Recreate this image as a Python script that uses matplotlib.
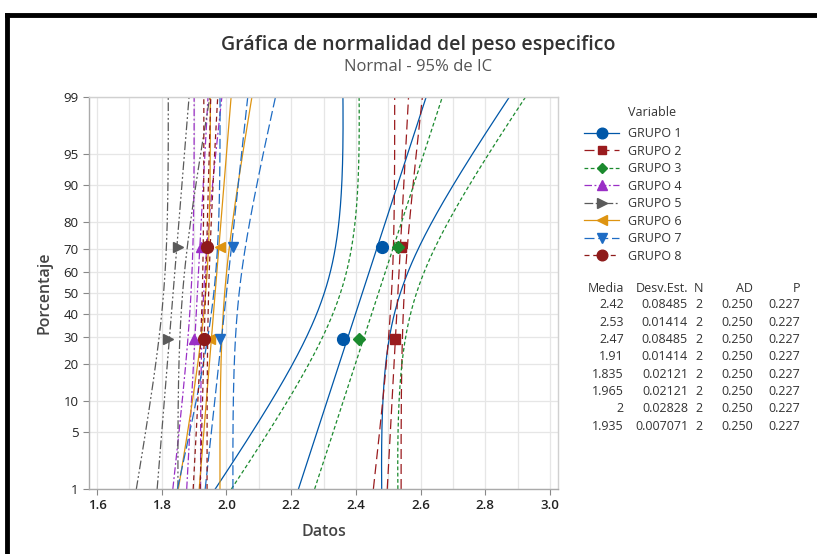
import numpy as np
import matplotlib
matplotlib.use('Agg')
import matplotlib.pyplot as plt
from matplotlib.lines import Line2D
from statistics import NormalDist

plt.rcParams['font.family'] = ['Open Sans', 'DejaVu Sans']

# ---- Data (two observations per group) ----
groups = ['GRUPO 1', 'GRUPO 2', 'GRUPO 3', 'GRUPO 4',
          'GRUPO 5', 'GRUPO 6', 'GRUPO 7', 'GRUPO 8']
obs_low  = [2.36, 2.52, 2.41, 1.90, 1.82, 1.95, 1.98, 1.93]
obs_high = [2.48, 2.54, 2.53, 1.92, 1.85, 1.98, 2.02, 1.94]
ad_vals  = [0.250] * 8
p_vals   = [0.227] * 8

pct_ticks = [1, 5, 10, 20, 30, 40, 50, 60, 70, 80, 90, 95, 99]

# ---- Styles ----
colors  = ['#0057A8', '#9A1B1E', '#1B8A2E', '#9A2FC6',
           '#5A5A5A', '#DE9411', '#1E6CC4', '#8E1A1A']
markers = ['o', 's', 'D', '^', '>', '<', 'v', 'o']
msizes  = [8.5, 6.5, 6, 7.5, 7.5, 7.5, 7.5, 8.5]
dashes  = [None, (8, 4), (3, 2), (6, 2, 1.5, 2), (7, 2, 1.5, 2, 1.5, 2),
           None, (8, 3), (4, 3)]

nd = NormalDist()
def z_of(p):
    return nd.inv_cdf(p / 100.0)

fig = plt.figure(figsize=(8.17, 5.54), dpi=100)
ax = fig.add_axes([89 / 817, 1 - 489 / 554, (558 - 89) / 817, (489 - 97) / 554])

z_lo, z_hi = z_of(1), z_of(99)
zz = np.linspace(z_lo, z_hi, 200)

means, sds = [], []
for i in range(len(groups)):
    x = np.sort(np.array([obs_low[i], obs_high[i]]))
    n = len(x)
    mu = x.mean()
    s = x.std(ddof=1)
    means.append(mu)
    sds.append(s)
    fit = mu + s * zz
    # 95% band around the fitted percentile line (width tuned to the reference)
    half = 1.96 * s * np.sqrt(1.0 / n + 0.35 * zz ** 2)
    kw = dict(color=colors[i], lw=0.9)
    for line in (fit, fit - half, fit + half):
        l, = ax.plot(line, zz, **kw)
        if dashes[i] is not None:
            l.set_dashes(dashes[i])

# points on top, median ranks (i-0.3)/(n+0.4)
for i in range(len(groups)):
    x = np.sort(np.array([obs_low[i], obs_high[i]]))
    n = len(x)
    ranks = (np.arange(1, n + 1) - 0.3) / (n + 0.4)
    zp = [nd.inv_cdf(r) for r in ranks]
    ax.plot(x, zp, linestyle='none', marker=markers[i], ms=msizes[i],
            color=colors[i], mec=colors[i], zorder=5)

ax.set_xlim(1.575, 3.025)
ax.set_ylim(z_lo, z_hi)
ax.set_xticks(np.arange(1.6, 3.01, 0.2))
ax.set_xticklabels([f'{v:.1f}' for v in np.arange(1.6, 3.01, 0.2)],
                   fontsize=9.5, fontweight='semibold', color='#222222')
ax.set_xticks(np.arange(1.6, 3.01, 0.1), minor=True)
ax.set_yticks([z_of(p) for p in pct_ticks])
ax.set_yticklabels([str(p) for p in pct_ticks], fontsize=9.5, color='#222222')
ax.tick_params(axis='x', which='minor', length=0)
ax.tick_params(axis='both', which='major', length=4, color='#888888', width=0.8)
ax.grid(True, which='both', color='#E6E6E6', lw=0.9, zorder=0)
ax.set_axisbelow(True)
for sp in ax.spines.values():
    sp.set_color('#D0D0D0')
    sp.set_linewidth(1.0)
ax.spines['left'].set_color('#AAAAAA')
ax.spines['bottom'].set_color('#AAAAAA')

ax.set_xlabel('Datos', fontsize=11.5, fontweight='semibold', color='#444444', labelpad=8)
ax.set_ylabel('Porcentaje', fontsize=11.5, fontweight='semibold', color='#444444', labelpad=8)

fig.text(418 / 817, 1 - 45 / 554, 'Gráfica de normalidad del peso especifico',
         ha='center', va='center', fontsize=14, fontweight='semibold', color='#333333')
fig.text(418 / 817, 1 - 67 / 554, 'Normal - 95% de IC',
         ha='center', va='center', fontsize=12, color='#555555')

# ---- Legend ----
handles = []
for i in range(len(groups)):
    h = Line2D([], [], color=colors[i], lw=0.9, marker=markers[i],
               ms=msizes[i] * 0.9, mec=colors[i])
    if dashes[i] is not None:
        h.set_dashes(dashes[i])
    handles.append(h)
leg = fig.legend(handles, groups, loc='upper left',
                 bbox_to_anchor=(578 / 817, 1 - 121 / 554), frameon=False,
                 fontsize=9, handlelength=2.8, labelspacing=0.36,
                 handletextpad=0.7, borderpad=0)
for t in leg.get_texts():
    t.set_color('#333333')
fig.text(628 / 817, 1 - 113 / 554, 'Variable', ha='left', va='center',
         fontsize=9, color='#333333')

# ---- Statistics table ----
col_x = [624, 688, 703, 753, 800]
head = ['Media', 'Desv.Est.', 'N', 'AD', 'P']
for cx, h in zip(col_x, head):
    fig.text(cx / 817, 1 - 288 / 554, h, ha='right', va='center',
             fontsize=9, color='#333333')
for i in range(len(groups)):
    y = 1 - (305 + i * 17.3) / 554
    row = [f'{means[i]:.4g}', f'{sds[i]:.4g}', '2',
           f'{ad_vals[i]:.3f}', f'{p_vals[i]:.3f}']
    for cx, v in zip(col_x, row):
        fig.text(cx / 817, y, v, ha='right', va='center',
                 fontsize=9, color='#333333')

# ---- Black frame (left and top) ----
fig.add_artist(Line2D([7 / 817, 7 / 817], [0, 1 - 15 / 554],
                      transform=fig.transFigure, color='black', lw=3.5))
fig.add_artist(Line2D([7 / 817, 1], [1 - 15 / 554, 1 - 15 / 554],
                      transform=fig.transFigure, color='black', lw=3.5))

fig.savefig('out.png', dpi=100)
